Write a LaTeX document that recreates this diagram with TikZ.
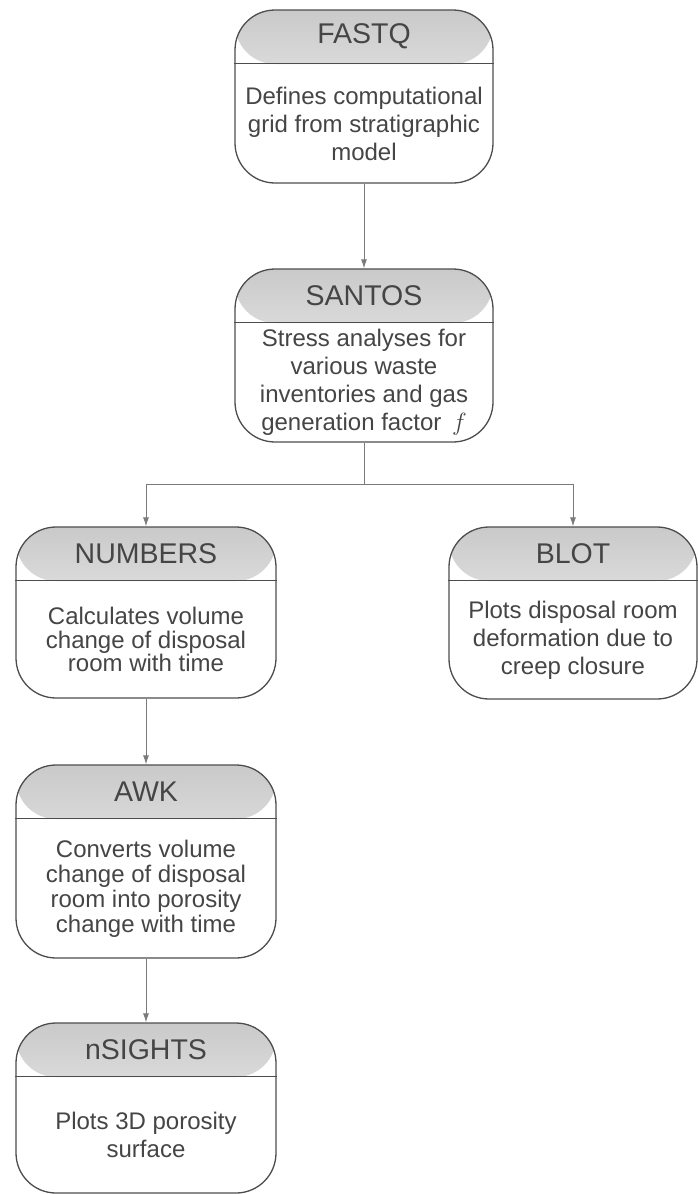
\documentclass[tikz,border=0pt]{standalone}
\usepackage{fontspec}
\setmainfont{Liberation Sans}
\usetikzlibrary{positioning,arrows.meta}

\definecolor{boxline}{HTML}{4D4D4D}
\definecolor{boxtext}{HTML}{454545}
\definecolor{flowline}{HTML}{7A7A7A}

\pgfdeclareverticalshading{headshade}{100bp}{color(0bp)=(white); color(8bp)=(white); color(60bp)=(gray!30); color(100bp)=(gray!62)}

\tikzset{
  stage/.style={draw=boxline, line width=1.3pt, rounded corners=40pt, inner sep=0pt, fill=white,
    path picture={\shade[shading=headshade]
      (path picture bounding box.north west) rectangle ([yshift=-54pt]path picture bounding box.north east);}},
  head/.style={text=boxtext, font=\fontsize{28.5}{30}\selectfont},
  body/.style={text=boxtext, align=center, font=\fontsize{24}{28}\selectfont},
  divider/.style={draw=boxline, line width=1.3pt},
  flow/.style={draw=flowline, line width=0.9pt, -{Latex[length=9pt,width=6pt]}}
}

\begin{document}
\begin{tikzpicture}[x=1pt, y=-1pt]
\useasboundingbox (0,0) rectangle (698,1194);

% stage boxes
\node[stage, minimum width=258pt, minimum height=173pt] (fastq) at (364,96.5) {};
\node[stage, minimum width=258pt, minimum height=173pt] (santos) at (364,355.5) {};
\node[stage, minimum width=260pt, minimum height=171pt] (numbers) at (146,612.5) {};
\node[stage, minimum width=248pt, minimum height=172pt] (blot) at (573,613) {};
\node[stage, minimum width=260pt, minimum height=193pt] (awk) at (146,861.5) {};
\node[stage, minimum width=260pt, minimum height=170pt] (nsights) at (146,1108) {};

% header lines
\draw[divider] ([yshift=-54pt]fastq.north west) -- ([yshift=-54pt]fastq.north east);
\draw[divider] ([yshift=-54pt]santos.north west) -- ([yshift=-54pt]santos.north east);
\draw[divider] ([yshift=-54pt]numbers.north west) -- ([yshift=-54pt]numbers.north east);
\draw[divider] ([yshift=-54pt]blot.north west) -- ([yshift=-54pt]blot.north east);
\draw[divider] ([yshift=-54pt]awk.north west) -- ([yshift=-54pt]awk.north east);
\draw[divider] ([yshift=-54pt]nsights.north west) -- ([yshift=-54pt]nsights.north east);

% titles
\node[head] (fastq-t) at ([yshift=-27pt]fastq.north) {FASTQ};
\node[head] (santos-t) at ([yshift=-27pt]santos.north) {SANTOS};
\node[head] (numbers-t) at ([yshift=-27pt]numbers.north) {NUMBERS};
\node[head] (blot-t) at ([yshift=-27pt]blot.north) {BLOT};
\node[head] (awk-t) at ([yshift=-27pt]awk.north) {AWK};
\node[head] (nsights-t) at ([yshift=-27pt]nsights.north) {nSIGHTS};

% descriptions
\node[body] (fastq-b) at ([yshift=-27pt]fastq.center) {Defines computational\\grid from stratigraphic\\model};
\node[body] (santos-b) at ([yshift=-27pt]santos.center) {Stress analyses for\\various waste\\inventories and gas\\generation factor \,$f$};
\node[body, font=\fontsize{24}{23.5}\selectfont] (numbers-b) at ([yshift=-27pt]numbers.center) {Calculates volume\\change of disposal\\room with time};
\node[body] (blot-b) at ([yshift=-27pt]blot.center) {Plots disposal room\\deformation due to\\creep closure};
\node[body, font=\fontsize{24}{25}\selectfont] (awk-b) at ([yshift=-27pt]awk.center) {Converts volume\\change of disposal\\room into porosity\\change with time};
\node[body] (nsights-b) at ([yshift=-27pt]nsights.center) {Plots 3D porosity\\surface};

% connectors
\coordinate (fork) at (364,484);
\draw[flow] (fastq.south) -- (santos.north);
\draw[flowline, line width=0.9pt] (santos.south) -- (fork);
\draw[flow] (fork) -| (numbers.north);
\draw[flow] (fork) -| (blot.north);
\draw[flow] (numbers.south) -- (awk.north);
\draw[flow] (awk.south) -- (nsights.north);
\end{tikzpicture}
\end{document}
